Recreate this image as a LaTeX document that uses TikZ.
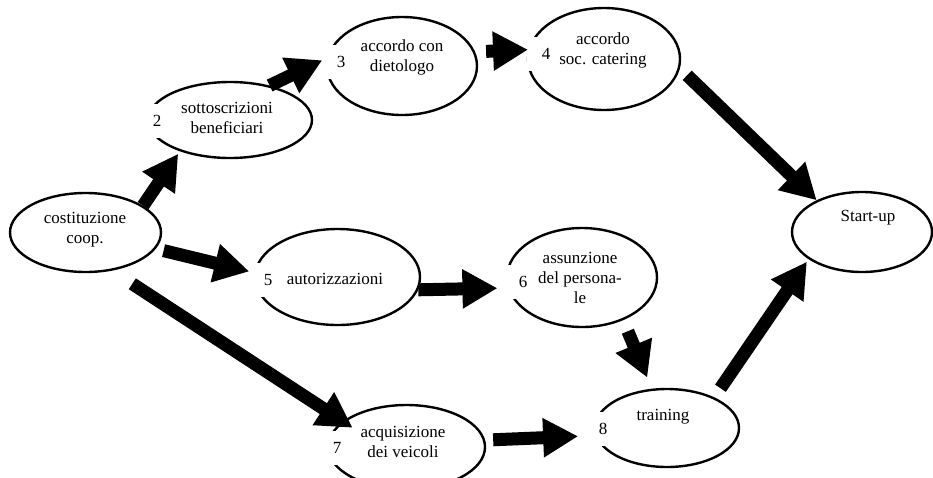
\documentclass[tikz,border=0pt]{standalone}
\usepackage{fontspec}
\setmainfont{Liberation Serif}
\usetikzlibrary{shapes.geometric, arrows.meta}

\begin{document}
\begin{tikzpicture}[x=1pt, y=-1pt,
    fase/.style={draw, ellipse, line width=2.4pt, inner sep=0pt},
    testo/.style={align=center, font=\fontsize{17}{20}\selectfont},
    numero/.style={fill=white, inner sep=0pt, minimum width=38pt, minimum height=34pt, font=\fontsize{17}{20}\selectfont},
    freccia/.style={line width=13pt, -{Triangle[length=35pt, width=37pt]}}]
    \useasboundingbox (0,0) rectangle (933,477);

    % Fasi
    \node[fase, minimum width=151, minimum height=79] (n1) at (85.5,232.5) {};
    \node[fase, minimum width=164, minimum height=76] (n2) at (230,120) {};
    \node[fase, minimum width=150, minimum height=98] (n3) at (402,66) {};
    \node[fase, minimum width=152, minimum height=102] (n4) at (604,59) {};
    \node[fase, minimum width=140, minimum height=80] (start) at (862,232) {};
    \node[fase, minimum width=165, minimum height=96] (n5) at (337.5,277) {};
    \node[fase, minimum width=150, minimum height=99] (n6) at (582,277.5) {};
    \node[fase, minimum width=157, minimum height=84] (n7) at (406.5,447) {};
    \node[fase, minimum width=144, minimum height=78] (n8) at (667,428) {};

    % Numeri
    \node[numero] (k2) at (157,121) {2};
    \node[numero] (k3) at (341,62) {3};
    \node[numero] (k4) at (546,54) {4};
    \node[numero] (k5) at (268,280) {5};
    \node[numero] (k6) at (523,282) {6};
    \node[numero] (k7) at (337,448) {7};
    \node[numero] (k8) at (603,429) {8};

    % Testi
    \node[testo] (t1) at (85,230) {costituzione\\coop.};
    \node[testo] (t2) at (227,118) {sottoscrizioni\\beneficiari};
    \node[testo] (t3) at (402,57) {accordo con\\dietologo};
    \node[testo] (t4) at (603,50) {accordo\\soc. catering};
    \node[testo] (tS) at (868,218) {Start-up};
    \node[testo] (t5) at (335,279) {autorizzazioni};
    \node[testo] (t6) at (580,278) {assunzione\\del persona-\\le};
    \node[testo] (t7) at (403,442) {acquisizione\\dei veicoli};
    \node[testo] (t8) at (663,417) {training};

    % Frecce
    \foreach \a/\b/\s/\e in {n1.25/n2.212/0pt/3pt, n2.41/n3.174/0pt/5pt,
        n3.11/n4.173/11pt/0pt, n4.-7/start.145/10pt/0pt,
        n1.-13/n5.177/8pt/5pt, n1.-55/n7.158/24pt/-12pt,
        n5.-9/n6.188/0pt/10pt, n6.-46/n8.111/12pt/12pt,
        n7.5/n8.186/8pt/17pt, n8.33/start.207/11pt/3pt}
    {
        \draw[freccia, shorten <=\s, shorten >=\e] (\a) -- (\b);
    }
\end{tikzpicture}
\end{document}
